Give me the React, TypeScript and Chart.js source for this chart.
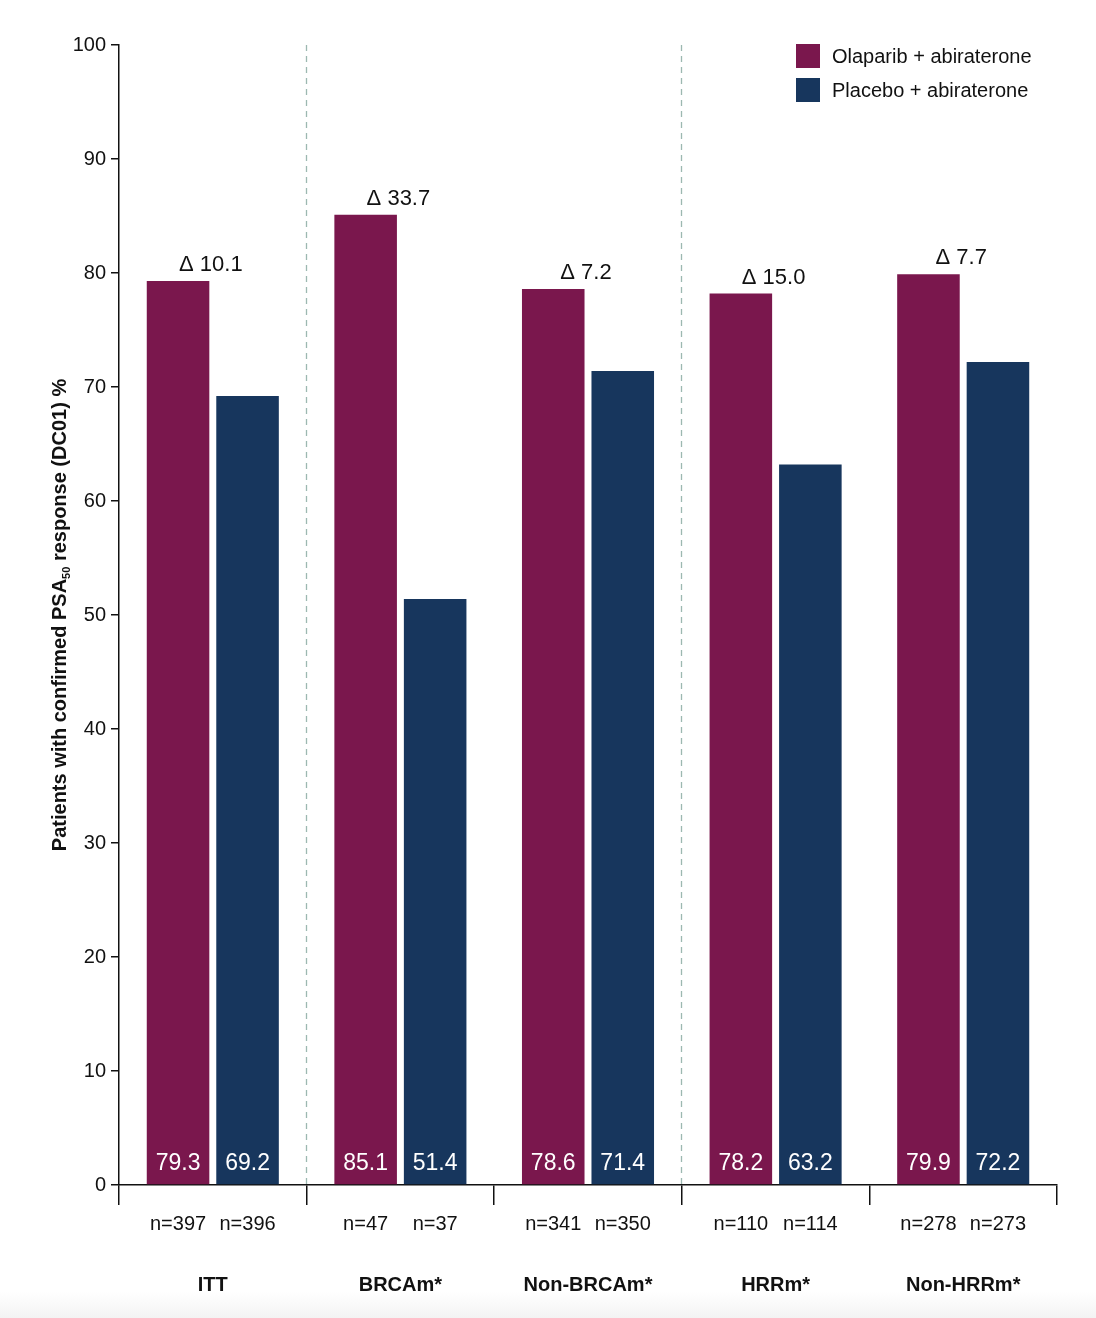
import React, { useEffect, useRef } from "react";
import { Chart, registerables } from "chart.js";

Chart.register(...registerables);

// Subgroups and sample sizes
const categories = ["ITT", "BRCAm*", "Non-BRCAm*", "HRRm*", "Non-HRRm*"];
const olaparibValues = [79.3, 85.1, 78.6, 78.2, 79.9];
const placeboValues = [69.2, 51.4, 71.4, 63.2, 72.2];
const deltaLabels = ["10.1", "33.7", "7.2", "15.0", "7.7"];
const olaparibN = ["n=397", "n=47", "n=341", "n=110", "n=278"];
const placeboN = ["n=396", "n=37", "n=350", "n=114", "n=273"];
const seriesNames = ["Olaparib + abiraterone", "Placebo + abiraterone"];
// Dashed separators follow these category indices
const separatorsAfter = [0, 2];

const OLAPARIB_COLOR = "#7A174D";
const PLACEBO_COLOR = "#17365D";
const INK = "#111111";
const FONT = "'Liberation Sans', Arial, Helvetica, sans-serif";

const annotations = {
  id: "annotations",
  beforeDatasetsDraw(chart: any) {
    const { ctx, chartArea, scales } = chart;
    const x = scales.x;
    ctx.save();
    ctx.strokeStyle = "#9cb8b1";
    ctx.lineWidth = 1.3;
    ctx.setLineDash([6, 5]);
    separatorsAfter.forEach((i) => {
      const px = Math.round((x.getPixelForValue(i) + x.getPixelForValue(i + 1)) / 2) - 0.5;
      ctx.beginPath();
      ctx.moveTo(px, chartArea.top);
      ctx.lineTo(px, chartArea.bottom);
      ctx.stroke();
    });
    ctx.restore();
  },
  afterDatasetsDraw(chart: any) {
    const { ctx, chartArea, scales } = chart;
    const x = scales.x;
    const metaO = chart.getDatasetMeta(0);
    const metaP = chart.getDatasetMeta(1);
    ctx.save();

    // Values inside the bars
    ctx.fillStyle = "#ffffff";
    ctx.font = `23px ${FONT}`;
    ctx.textAlign = "center";
    ctx.textBaseline = "middle";
    metaO.data.forEach((bar: any, i: number) => {
      ctx.fillText(olaparibValues[i].toFixed(1), bar.x, chartArea.bottom - 21);
    });
    metaP.data.forEach((bar: any, i: number) => {
      ctx.fillText(placeboValues[i].toFixed(1), bar.x, chartArea.bottom - 21);
    });

    // Differences above each group
    ctx.fillStyle = INK;
    ctx.font = `22px ${FONT}`;
    ctx.textBaseline = "alphabetic";
    metaO.data.forEach((bar: any, i: number) => {
      ctx.fillText(`\u0394 ${deltaLabels[i]}`, x.getPixelForValue(i) - 2, bar.y - 10);
    });

    // Sample sizes under the axis
    ctx.font = `20px ${FONT}`;
    ctx.textBaseline = "middle";
    metaO.data.forEach((bar: any, i: number) => {
      ctx.fillText(olaparibN[i], bar.x, 1224);
    });
    metaP.data.forEach((bar: any, i: number) => {
      ctx.fillText(placeboN[i], bar.x, 1224);
    });

    // Subgroup names
    ctx.font = `bold 20px ${FONT}`;
    categories.forEach((c, i) => {
      ctx.fillText(c, x.getPixelForValue(i), 1285);
    });

    // Legend
    const colors = [OLAPARIB_COLOR, PLACEBO_COLOR];
    ctx.font = `20px ${FONT}`;
    ctx.textAlign = "left";
    seriesNames.forEach((name, i) => {
      const top = 44 + i * 34;
      ctx.fillStyle = colors[i];
      ctx.fillRect(796, top, 24, 24);
      ctx.fillStyle = INK;
      ctx.fillText(name, 832, top + 13);
    });

    // Y-axis title with subscript
    const main1 = "Patients with confirmed PSA";
    const sub = "50";
    const main2 = " response (DC01) %";
    const mainFont = `bold 20px ${FONT}`;
    const subFont = `bold 11px ${FONT}`;
    ctx.font = mainFont;
    const w1 = ctx.measureText(main1).width;
    const w3 = ctx.measureText(main2).width;
    ctx.font = subFont;
    const w2 = ctx.measureText(sub).width;
    const total = w1 + w2 + w3;
    ctx.translate(66, 615);
    ctx.rotate(-Math.PI / 2);
    ctx.textBaseline = "alphabetic";
    ctx.fillStyle = INK;
    let cx = -total / 2;
    ctx.font = mainFont;
    ctx.fillText(main1, cx, 0);
    cx += w1;
    ctx.font = subFont;
    ctx.fillText(sub, cx, 4);
    cx += w2;
    ctx.font = mainFont;
    ctx.fillText(main2, cx, 0);

    ctx.restore();
  },
};

export default function App() {
  const canvasRef = useRef<HTMLCanvasElement | null>(null);

  useEffect(() => {
    if (!canvasRef.current) return;
    const chart = new Chart(canvasRef.current, {
      type: "bar",
      data: {
        labels: categories,
        datasets: [
          {
            label: seriesNames[0],
            data: olaparibValues,
            backgroundColor: OLAPARIB_COLOR,
            categoryPercentage: 0.741,
            barPercentage: 0.9,
          },
          {
            label: seriesNames[1],
            data: placeboValues,
            backgroundColor: PLACEBO_COLOR,
            categoryPercentage: 0.741,
            barPercentage: 0.9,
          },
        ],
      },
      options: {
        responsive: false,
        animation: false,
        layout: { padding: { top: 45, right: 39, left: 0, bottom: 0 } },
        plugins: {
          legend: { display: false },
          tooltip: { enabled: false },
        },
        scales: {
          x: {
            offset: true,
            grid: {
              offset: true,
              drawOnChartArea: false,
              drawTicks: true,
              tickLength: 20,
              color: INK,
              lineWidth: 1.5,
            },
            border: { display: true, color: INK, width: 1.5 },
            ticks: { display: false },
            afterFit(scale: any) {
              scale.height = 133;
            },
          },
          y: {
            min: 0,
            max: 100,
            ticks: {
              stepSize: 10,
              color: INK,
              padding: 5,
              font: { family: FONT, size: 20 },
            },
            grid: {
              drawOnChartArea: false,
              drawTicks: true,
              tickLength: 8,
              color: INK,
              lineWidth: 1.5,
            },
            border: { display: true, color: INK, width: 1.5 },
            afterFit(scale: any) {
              scale.width = 119;
            },
          },
        },
      },
      plugins: [annotations],
    });
    return () => chart.destroy();
  }, []);

  return (
    <div
      style={{
        position: "absolute",
        left: 0,
        top: 0,
        width: 1096,
        height: 1318,
        background: "#ffffff",
        overflow: "hidden",
      }}
    >
      <div
        style={{
          position: "absolute",
          left: 0,
          top: 1292,
          width: 1096,
          height: 26,
          background: "linear-gradient(#ffffff, #f3f3f3)",
        }}
      />
      <canvas
        ref={canvasRef}
        width={1096}
        height={1318}
        style={{ position: "absolute", left: 0, top: 0, width: 1096, height: 1318 }}
      />
    </div>
  );
}
